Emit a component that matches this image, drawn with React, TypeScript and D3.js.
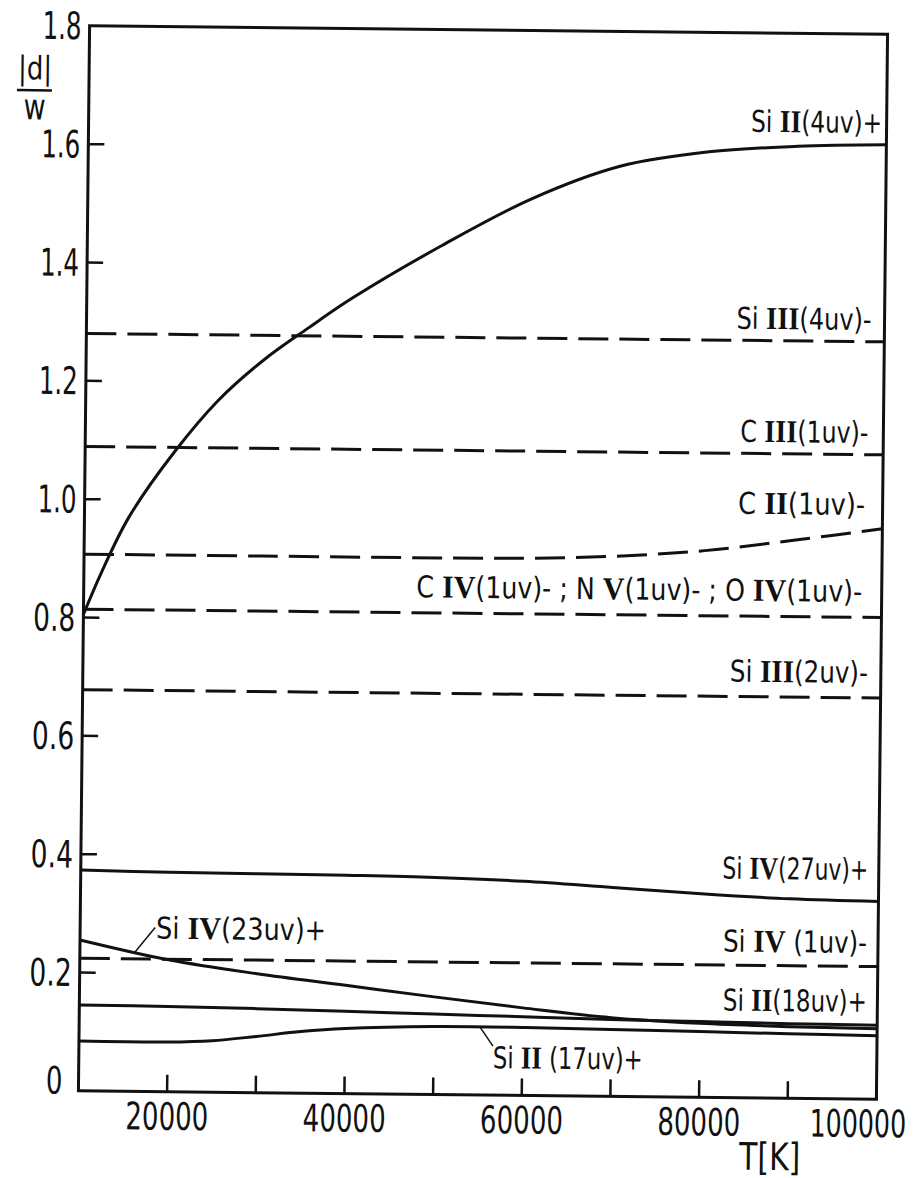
import React, { useLayoutEffect, useRef } from "react";
import * as d3 from "d3";

// ---------- data ----------
const xTicks = [20000, 30000, 40000, 50000, 60000, 70000, 80000, 90000, 100000];
const xTickLabels = [20000, 40000, 60000, 80000, 100000];
const yTicks = [0.2, 0.4, 0.6, 0.8, 1.0, 1.2, 1.4, 1.6];
const yTickLabels = ["0.2", "0.4", "0.6", "0.8", "1.0", "1.2", "1.4", "1.6", "1.8"];

// Si II (4uv)+  (solid)
const siII4T = [10000, 12000, 15000, 20000, 25000, 30000, 35000, 40000, 50000, 60000, 70000, 80000, 90000, 100000];
const siII4V = [0.805, 0.877, 0.97, 1.08, 1.17, 1.238, 1.293, 1.345, 1.435, 1.515, 1.572, 1.598, 1.609, 1.613];

// C II (1uv)-  (dashed, rising at high T)
const cIIT = [10000, 30000, 50000, 60000, 70000, 80000, 90000, 100000];
const cIIV = [0.907, 0.907, 0.907, 0.908, 0.913, 0.924, 0.943, 0.964];

// constant dashed lines
const flatT = [10000, 100000];
const siIII4V = [1.28, 1.28];
const cIIIV = [1.089, 1.089];
const cIVV = [0.814, 0.814];
const siIII2V = [0.678, 0.678];
const siIV1V = [0.224, 0.224];

// solid low curves
const lowT = [10000, 20000, 30000, 40000, 50000, 60000, 70000, 80000, 90000, 100000];
const siIV27V = [0.373, 0.371, 0.37, 0.369, 0.367, 0.362, 0.353, 0.344, 0.337, 0.334];
const siIV23V = [0.255, 0.223, 0.201, 0.183, 0.165, 0.148, 0.133, 0.125, 0.121, 0.119];
const siII18V = [0.145, 0.144, 0.142, 0.139, 0.136, 0.133, 0.13, 0.128, 0.126, 0.125];
const siII17T = [10000, 20000, 25000, 30000, 35000, 40000, 50000, 60000, 70000, 80000, 90000, 100000];
const siII17V = [0.084, 0.084, 0.087, 0.095, 0.104, 0.11, 0.115, 0.115, 0.113, 0.111, 0.109, 0.107];

// ---------- layout ----------
const W = 918;
const H = 1178;
const left = 84;
const right = 882;
const top = 30;
const bottom = 1095;

const x = d3.scaleLinear().domain([10000, 100000]).range([left, right]);
const y = d3.scaleLinear().domain([0, 1.8]).range([bottom, top]);

const lineSmooth = d3
  .line<[number, number]>()
  .x((d) => x(d[0]))
  .y((d) => y(d[1]))
  .curve(d3.curveCatmullRom.alpha(0.5));

const zip = (ts: number[], vs: number[]) => ts.map((t, i) => [t, vs[i]] as [number, number]);

const series = [
  { ts: siII4T, vs: siII4V, dashed: false },
  { ts: flatT, vs: siIII4V, dashed: true },
  { ts: flatT, vs: cIIIV, dashed: true },
  { ts: cIIT, vs: cIIV, dashed: true },
  { ts: flatT, vs: cIVV, dashed: true },
  { ts: flatT, vs: siIII2V, dashed: true },
  { ts: lowT, vs: siIV27V, dashed: false },
  { ts: flatT, vs: siIV1V, dashed: true },
  { ts: lowT, vs: siIV23V, dashed: false },
  { ts: lowT, vs: siII18V, dashed: false },
  { ts: siII17T, vs: siII17V, dashed: false },
];

// label placement (baseline point, anchor, target width in px)
const labels = [
  { text: "Si II(4uv)+", x: 877.5, y: 129, anchor: "end", w: 131 },
  { text: "Si III(4uv)-", x: 869, y: 326, anchor: "end", w: 135 },
  { text: "C III(1uv)-", x: 867, y: 439, anchor: "end", w: 128 },
  { text: "C II(1uv)-", x: 864.5, y: 511, anchor: "end", w: 127 },
  { text: "C IV(1uv)- ; N V(1uv)- ; O IV(1uv)-", x: 862.5, y: 598, anchor: "end", w: 446 },
  { text: "Si III(2uv)-", x: 869, y: 679, anchor: "end", w: 138 },
  { text: "Si IV(27uv)+", x: 871.5, y: 876, anchor: "end", w: 146 },
  { text: "Si IV (1uv)-", x: 871, y: 949, anchor: "end", w: 144 },
  { text: "Si II(18uv)+", x: 871.5, y: 1008, anchor: "end", w: 144 },
  { text: "Si II (17uv)+", x: 648, y: 1068, anchor: "end", w: 150 },
  { text: "Si IV(23uv)+", x: 160, y: 942, anchor: "start", w: 170 },
];

const interp = (ts: number[], vs: number[], t: number) => d3.scaleLinear().domain(ts).range(vs)(t);

const leaders = [
  { x0: 159, y0: 931, t: 16200, ts: lowT, vs: siIV23V },
  { x0: 498, y0: 1046, t: 55200, ts: siII17T, vs: siII17V },
];

const SANS = "'DejaVu Sans Condensed', 'DejaVu Sans', sans-serif";
const SERIF = "'Liberation Serif', 'DejaVu Serif', serif";

const charW = (s: string) =>
  s.split("").reduce((a, c) => a + (c === "." ? 9 : c === "1" ? 13.5 : 16.6), 0);

// text squeezed horizontally to a target width (scaled in useLayoutEffect)
function SText({
  tx,
  ty,
  w,
  anchor,
  size,
  children,
}: {
  tx: number;
  ty: number;
  w: number;
  anchor: string;
  size: number;
  children: React.ReactNode;
}) {
  return (
    <text
      data-x={tx}
      data-y={ty}
      data-w={w}
      transform={`translate(${tx},${ty})`}
      x={0}
      y={0}
      textAnchor={anchor}
      fontFamily={SANS}
      fontSize={size}
      fill="#111"
    >
      {children}
    </text>
  );
}

function labelParts(text: string) {
  const parts = text.split(/([IV]+)/).filter((p) => p.length > 0);
  return parts.map((p, i) =>
    /^[IV]+$/.test(p) ? (
      <tspan key={i} fontFamily={SERIF} fontWeight="bold" fontSize={32}>
        {p}
      </tspan>
    ) : (
      <tspan key={i}>{p}</tspan>
    )
  );
}

export default function App() {
  const svgRef = useRef<SVGSVGElement>(null);

  useLayoutEffect(() => {
    const svg = svgRef.current;
    if (!svg) return;
    svg.querySelectorAll("text[data-w]").forEach((el) => {
      const t = el as SVGTextElement;
      const tx = +(t.getAttribute("data-x") || 0);
      const ty = +(t.getAttribute("data-y") || 0);
      const w = +(t.getAttribute("data-w") || 0);
      const bw = t.getBBox().width;
      if (bw > 0) t.setAttribute("transform", `translate(${tx},${ty}) scale(${w / bw},1)`);
    });
  }, []);

  return (
    <svg
      ref={svgRef}
      width={W}
      height={H}
      viewBox={`0 0 ${W} ${H}`}
      style={{ position: "absolute", left: 0, top: 0, background: "#fff" }}
    >
      <rect x={0} y={0} width={W} height={H} fill="#fff" />
      <g transform="rotate(0.6 483 562)">
        {/* frame */}
        <rect x={left} y={top} width={right - left} height={bottom - top} fill="none" stroke="#111" strokeWidth={3} />
        {/* y ticks */}
        {yTicks.map((v) => (
          <line key={v} x1={left} x2={left + 16} y1={y(v)} y2={y(v)} stroke="#111" strokeWidth={2.5} />
        ))}
        {/* x ticks */}
        {xTicks.map((t) => (
          <line key={t} x1={x(t)} x2={x(t)} y1={bottom} y2={bottom - 17} stroke="#111" strokeWidth={2.5} />
        ))}
        {/* y tick labels */}
        {yTickLabels.map((s) => (
          <SText key={s} tx={left - 8} ty={y(+s) + 13.5} w={charW(s)} anchor="end" size={38}>
            {s}
          </SText>
        ))}
        <SText tx={left - 16} ty={bottom + 3} w={16.6} anchor="end" size={38}>
          0
        </SText>
        {/* x tick labels */}
        {xTickLabels.map((t) => {
          const s = String(t);
          const wl = charW(s);
          const cx = Math.min(x(t), 912 - wl / 2);
          return (
            <SText key={t} tx={cx} ty={bottom + 38} w={wl} anchor="middle" size={38}>
              {s}
            </SText>
          );
        })}
        <SText tx={776} ty={1167} w={62} anchor="middle" size={38}>
          T[K]
        </SText>
        {/* y title */}
        <SText tx={30} ty={84} w={34} anchor="middle" size={32}>
          |d|
        </SText>
        <line x1={12} x2={47} y1={95} y2={95} stroke="#111" strokeWidth={2.5} />
        <SText tx={30} ty={124} w={22} anchor="middle" size={36}>
          w
        </SText>
        {/* curves */}
        {series.map((s, i) => (
          <path
            key={i}
            d={lineSmooth(zip(s.ts, s.vs)) || ""}
            fill="none"
            stroke="#111"
            strokeWidth={3}
            strokeDasharray={s.dashed ? "30 11" : undefined}
          />
        ))}
        {/* leaders */}
        {leaders.map((l, i) => (
          <line
            key={i}
            x1={l.x0}
            y1={l.y0}
            x2={x(l.t)}
            y2={y(interp(l.ts, l.vs, l.t))}
            stroke="#111"
            strokeWidth={1.5}
          />
        ))}
        {/* labels */}
        {labels.map((l, i) => (
          <SText key={i} tx={l.x} ty={l.y} w={l.w} anchor={l.anchor} size={30}>
            {labelParts(l.text)}
          </SText>
        ))}
      </g>
    </svg>
  );
}
